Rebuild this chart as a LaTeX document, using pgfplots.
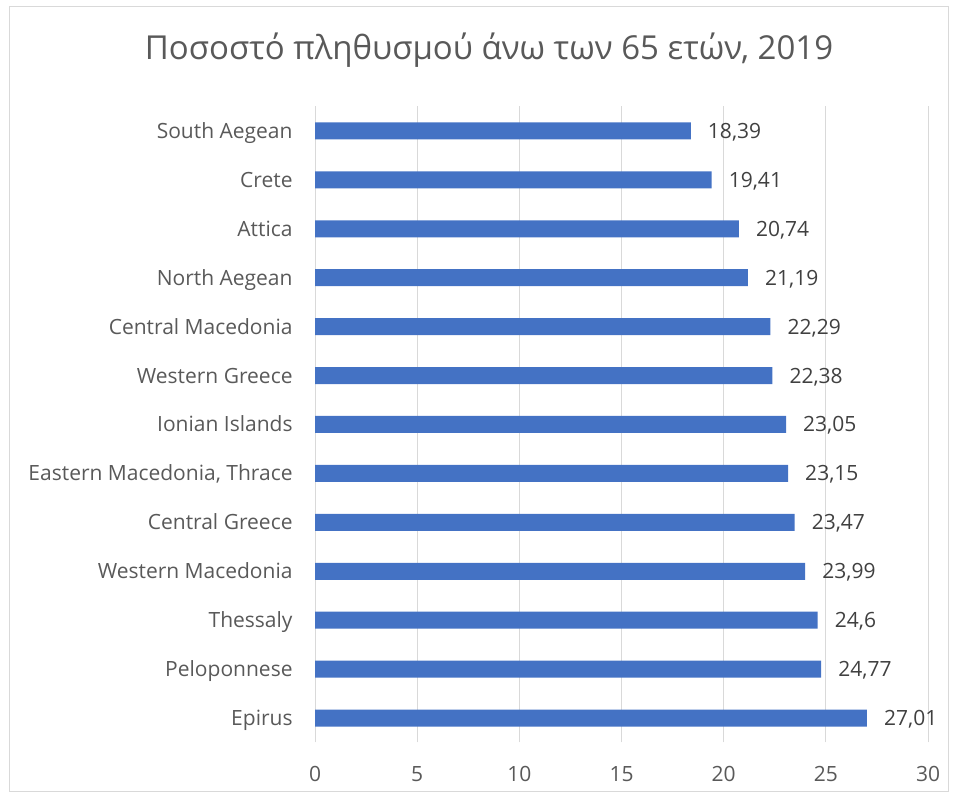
\documentclass[border=0pt]{standalone}
\usepackage{fontspec}
\setmainfont{Open Sans}
\usepackage{pgfplots}
\pgfplotsset{compat=1.18}
\definecolor{barblue}{HTML}{4472C4}
\definecolor{gridgray}{HTML}{D9D9D9}
\definecolor{txt}{HTML}{595959}
\definecolor{lbl}{HTML}{404040}
\begin{document}
\begin{tikzpicture}[x=1bp,y=1bp]
\useasboundingbox (0,0) rectangle (954,798);
\draw[gridgray, line width=1bp] (9,6) rectangle (948,791);
\node[txt, font=\fontsize{33bp}{38bp}\selectfont] at (489,748) {Ποσοστό πληθυσμού άνω των 65 ετών, 2019};
\begin{axis}[
  at={(315bp,55.5bp)}, anchor=south west,
  scale only axis, width=613bp, height=636bp,
  xmin=0, xmax=30, ymin=-0.5, ymax=12.5,
  xbar, bar width=17bp,
  axis line style={draw=none},
  xtick={0,5,...,30},
  xmajorgrids, grid style={gridgray, line width=1bp},
  ytick={0,...,12},
  yticklabels={Epirus, Peloponnese, Thessaly, Western Macedonia, Central Greece, {Eastern Macedonia, Thrace}, Ionian Islands, Western Greece, Central Macedonia, North Aegean, Attica, Crete, South Aegean},
  tick style={draw=none},
  /pgf/number format/assume math mode=true,
  /pgf/number format/use comma,
  xticklabel style={txt, font=\fontsize{21bp}{25bp}\selectfont, anchor=base, inner sep=0pt, yshift=-39bp},
  yticklabel style={txt, font=\fontsize{21bp}{25bp}\selectfont, anchor=base east, inner sep=0pt, xshift=-18bp, yshift=-7.5bp},
  nodes near coords,
  nodes near coords style={lbl, font=\fontsize{21bp}{25bp}\selectfont, anchor=base west, inner sep=0pt, xshift=17bp, yshift=-7.5bp},
]
\addplot[fill=barblue, draw=none] coordinates {
(27.01,0) (24.77,1) (24.6,2) (23.99,3) (23.47,4) (23.15,5) (23.05,6) (22.38,7) (22.29,8) (21.19,9) (20.74,10) (19.41,11) (18.39,12)
};
\end{axis}
\end{tikzpicture}
\end{document}
